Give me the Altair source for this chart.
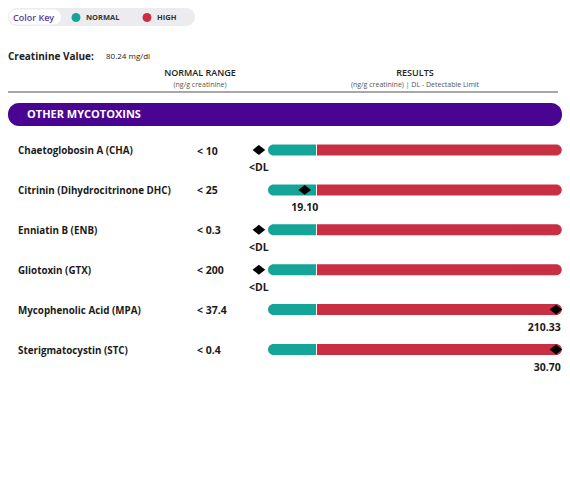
import altair as alt
import pandas as pd

# ---- data ----
names = ["Chaetoglobosin A (CHA)", "Citrinin (Dihydrocitrinone DHC)", "Enniatin B (ENB)",
         "Gliotoxin (GTX)", "Mycophenolic Acid (MPA)", "Sterigmatocystin (STC)"]
limits = [10, 25, 0.3, 200, 37.4, 0.4]
range_labels = ["< 10", "< 25", "< 0.3", "< 200", "< 37.4", "< 0.4"]
results = [None, 19.10, None, None, 210.33, 30.70]
result_labels = ["<DL", "19.10", "<DL", "<DL", "210.33", "30.70"]

creatinine = "80.24 mg/dl"

# display scale: value expressed as a multiple of the normal limit
CAP = 5.0           # ratios above this are pinned to the end of the track
END_MARK = 6.0      # marker position at the end of the track
DISPLAY_MAX = 6.12  # end of the red (high) track
DL_POS = -0.19      # below detectable limit marker

rows = []
for i, (n, lim, rl, r, lab) in enumerate(zip(names, limits, range_labels, results, result_labels)):
    if r is None:
        u, capped = DL_POS, False
    else:
        ratio = r / lim
        capped = ratio > CAP
        u = END_MARK if capped else ratio
    rows.append(dict(row=i, name=n, rng=rl, lo=0 / lim, hi=lim / lim,
                     red_lo=lim / lim + 0.02, red_hi=DISPLAY_MAX,
                     u=u, label=lab, capped=capped,
                     tx=DISPLAY_MAX if capped else u))
df = pd.DataFrame(rows)

FONT = "Open Sans"
GREEN = "#15a598"
RED = "#c82f42"
PURPLE = "#4a0492"

W, H = 554, 464
xs = alt.Scale(domain=[0, 1], range=[260, 308])
ys = alt.Scale(domain=[0, 5], range=[137, 346.5])
X = lambda f: alt.X(f"{f}:Q", scale=xs, axis=None)
Y = alt.Y("row:Q", scale=ys, axis=None)

one = pd.DataFrame({"k": [0]})


def txt(s, x, y, **kw):
    return alt.Chart(one).mark_text(text=s, font=FONT, **kw).encode(
        x=alt.value(x), y=alt.value(y))


def box(x, x2, y, y2, color, r):
    return alt.Chart(one).mark_rect(color=color, cornerRadius=r).encode(
        x=alt.value(x), x2=alt.value(x2), y=alt.value(y), y2=alt.value(y2))


header = [
    box(0, 187, 0, 18, "#ececf0", 9),
    box(1, 53, 1.5, 16.5, "#ffffff", 8),
    txt("Color Key", 5, 9.5, align="left", baseline="middle", fontSize=9, fontWeight=600, color="#5a3a9a"),
    alt.Chart(one).mark_circle(color=GREEN, size=80, opacity=1).encode(x=alt.value(68), y=alt.value(9.5)),
    txt("NORMAL", 78, 9.5, align="left", baseline="middle", fontSize=7.5, fontWeight="bold", color="#333333"),
    alt.Chart(one).mark_circle(color=RED, size=80, opacity=1).encode(x=alt.value(139), y=alt.value(9.5)),
    txt("HIGH", 149, 9.5, align="left", baseline="middle", fontSize=7.5, fontWeight="bold", color="#333333"),
    txt("Creatinine Value:", 0, 49, align="left", baseline="middle", fontSize=10, fontWeight="bold", color="#222222"),
    txt(creatinine, 98, 49, align="left", baseline="middle", fontSize=8, color="#222222"),
    txt("NORMAL RANGE", 192, 65, align="center", baseline="middle", fontSize=9, fontWeight=600, color="#222222"),
    txt("(ng/g creatinine)", 192, 77, align="center", baseline="middle", fontSize=7, color="#555555"),
    txt("RESULTS", 407, 65, align="center", baseline="middle", fontSize=9, fontWeight=600, color="#222222"),
    txt("(ng/g creatinine) | DL - Detectable Limit", 407, 77, align="center", baseline="middle", fontSize=7, color="#555555"),
    alt.Chart(one).mark_rule(color="#a8a8ab", strokeWidth=2).encode(
        x=alt.value(0), x2=alt.value(550), y=alt.value(84)),
    box(0, 554, 95, 118, PURPLE, 11),
    txt("OTHER MYCOTOXINS", 19, 107, align="left", baseline="middle", fontSize=11, fontWeight="bold", color="#ffffff"),
]

base = alt.Chart(df)

row_names = base.mark_text(font=FONT, fontSize=9.8, fontWeight="bold", align="left",
                           baseline="middle", color="#1a1a1a", dy=1).encode(
    x=alt.value(10), y=Y, text="name:N")
row_rng = base.mark_text(font=FONT, fontSize=10.5, fontWeight="bold", align="left",
                         baseline="middle", color="#1a1a1a", dy=1.5).encode(
    x=alt.value(189), y=Y, text="rng:N")

green = base.mark_bar(color=GREEN, size=11, orient="horizontal",
                      cornerRadiusTopLeft=5.5, cornerRadiusBottomLeft=5.5).encode(
    x=X("lo"), x2="hi:Q", y=Y)
red = base.mark_bar(color=RED, size=11, orient="horizontal",
                    cornerRadiusTopRight=5.5, cornerRadiusBottomRight=5.5).encode(
    x=X("red_lo"), x2="red_hi:Q", y=Y)
marker = base.mark_point(shape="M-1,0L0,-0.78L1,0L0,0.78Z", filled=True, color="#000000",
                         opacity=1, size=160, strokeWidth=0).encode(x=X("u"), y=Y)

lab_c = base.transform_filter("!datum.capped").mark_text(
    font=FONT, fontSize=10.5, fontWeight="bold", align="center", baseline="middle",
    color="#1a1a1a", dy=18).encode(x=X("tx"), y=Y, text="label:N")
lab_r = base.transform_filter("datum.capped").mark_text(
    font=FONT, fontSize=10.5, fontWeight="bold", align="right", baseline="middle",
    color="#1a1a1a", dy=18, dx=-1).encode(x=X("tx"), y=Y, text="label:N")

chart = alt.layer(*header, row_names, row_rng, green, red, marker, lab_c, lab_r).properties(
    width=W, height=H, padding=0, autosize="none", background="#ffffff"
).configure_view(stroke=None)

chart.save("out.html", embed_options={"renderer": "svg", "actions": False})
